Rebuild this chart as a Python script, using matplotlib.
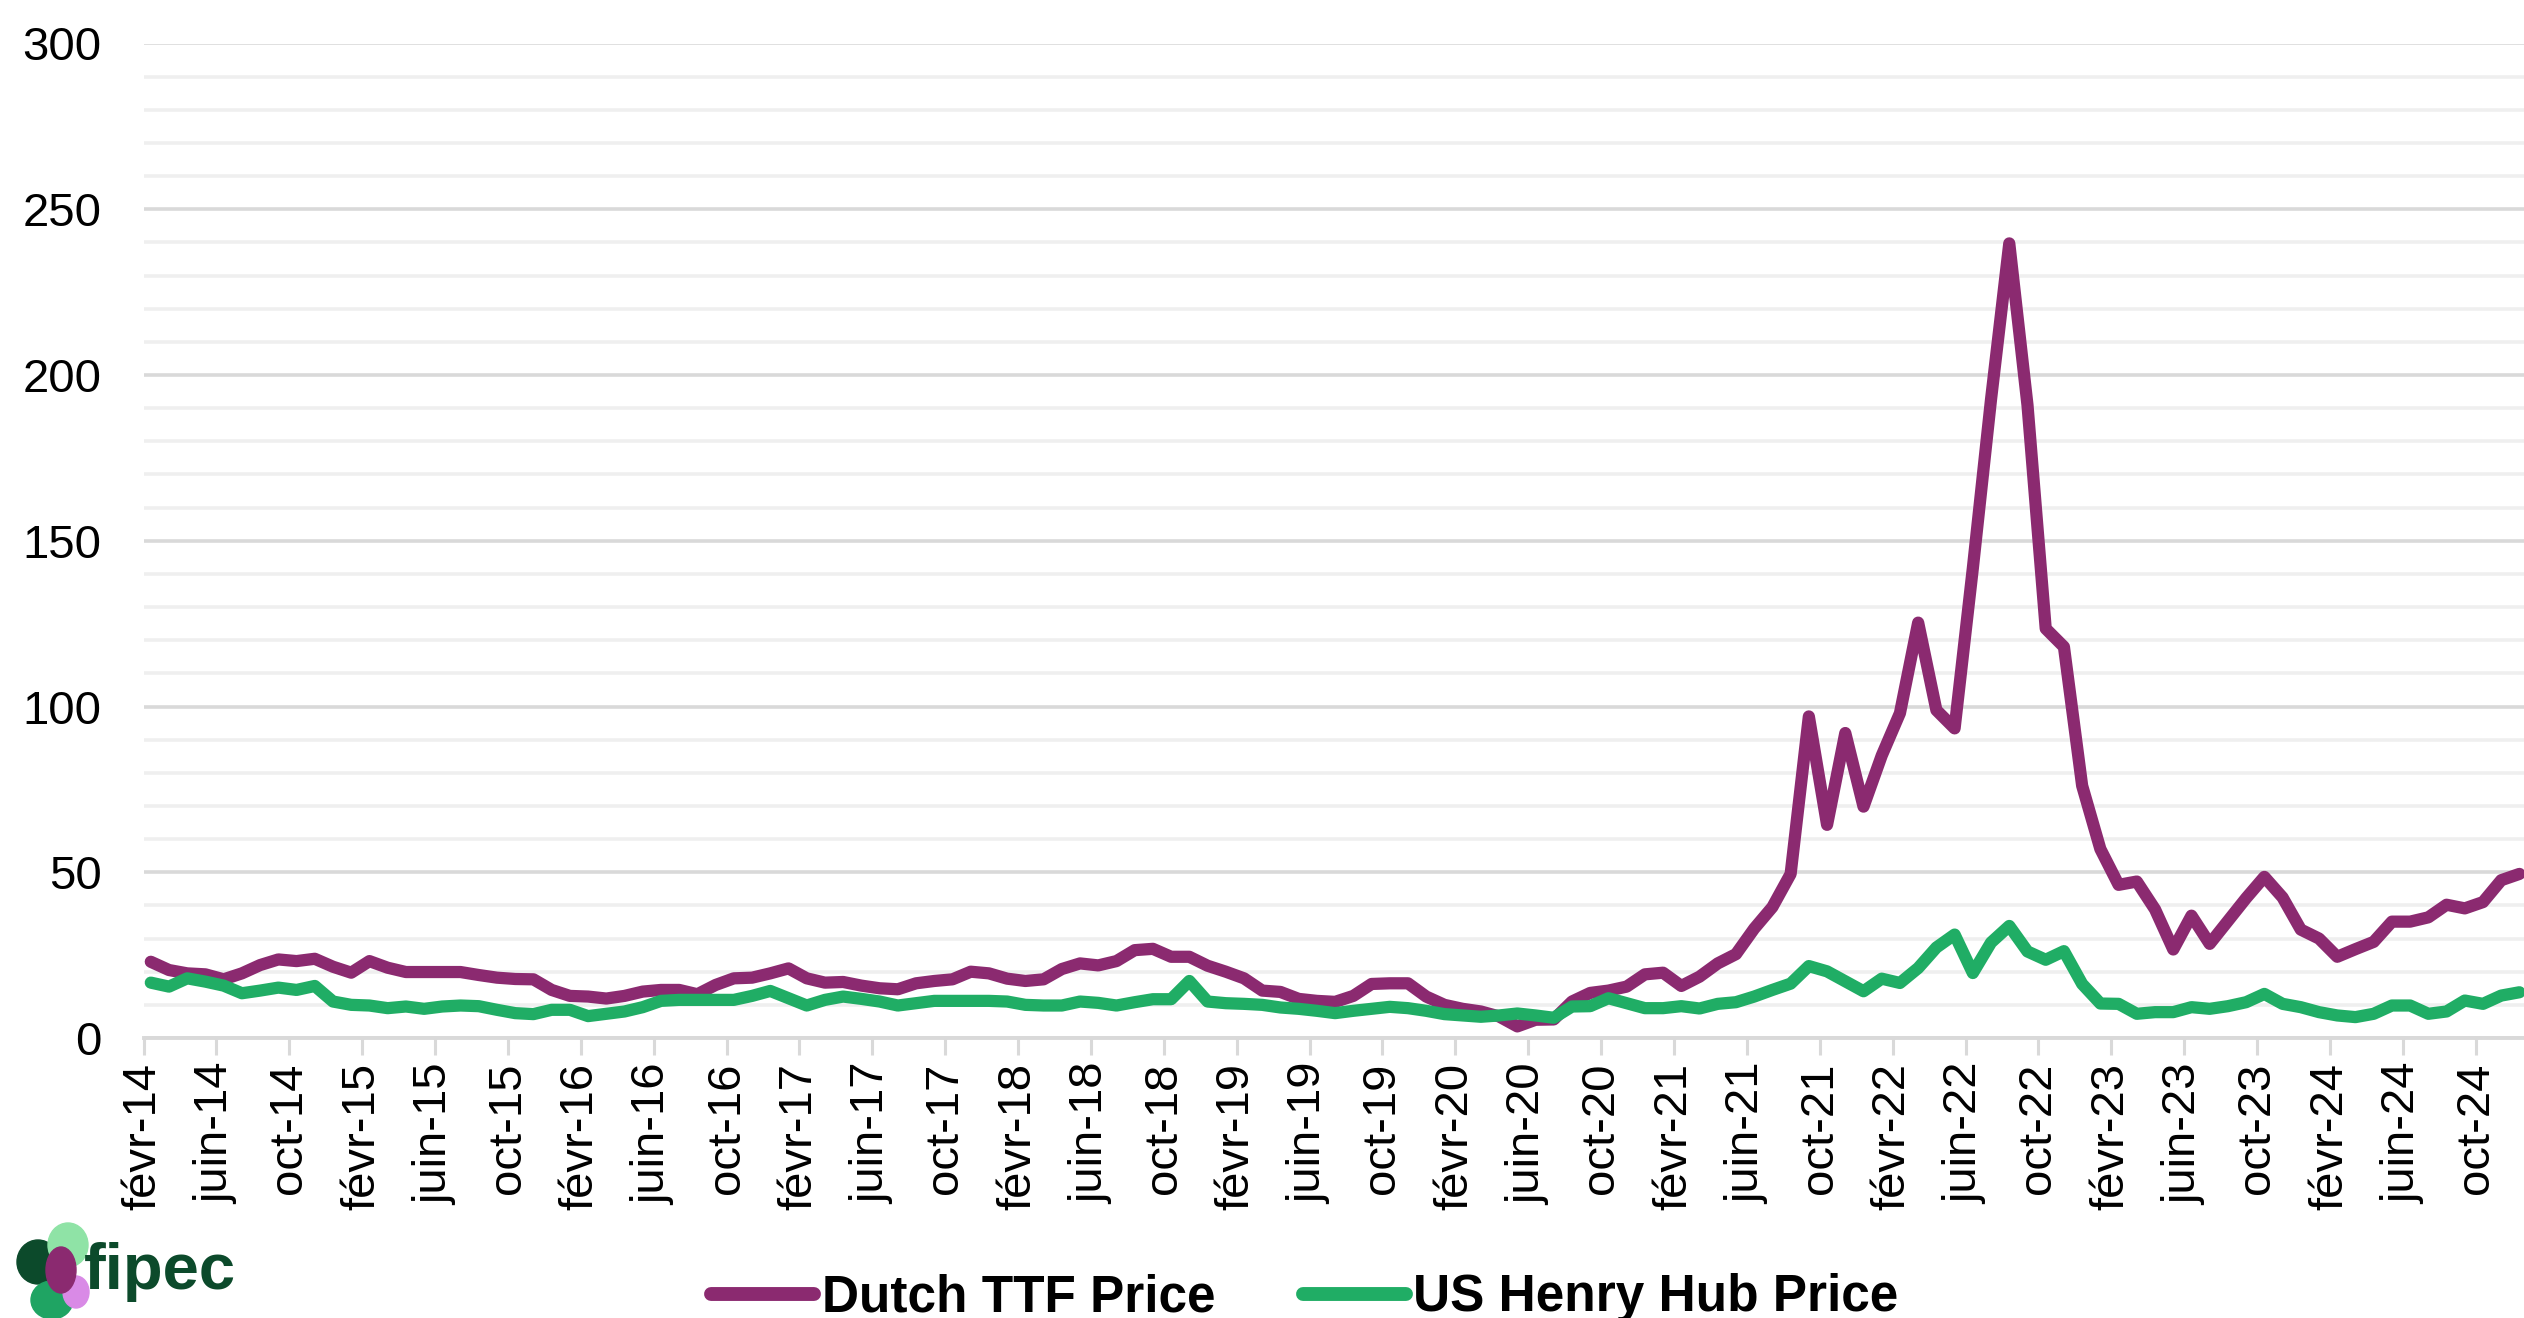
import matplotlib
matplotlib.use("Agg")
import matplotlib.pyplot as plt
from matplotlib.ticker import MultipleLocator, FixedLocator
from matplotlib.patches import Ellipse
import numpy as np

plt.rcParams['font.family'] = ['Liberation Sans', 'DejaVu Sans']

# Monthly prices, Feb 2014 .. Dec 2024
dutch_ttf = [
    23.0, 20.5, 19.5, 19.2, 17.7, 19.5, 22.0, 23.7, 23.2, 23.9, 21.5, 19.7,   # 2014-02 .. 2015-01
    23.2, 21.2, 19.9, 19.9, 19.9, 19.9, 19.0, 18.2, 17.8, 17.7, 14.5, 12.7,   # 2015-02 .. 2016-01
    12.5, 11.9, 12.7, 14.0, 14.5, 14.5, 13.2, 16.0, 18.0, 18.2, 19.5, 21.0,   # 2016-02 .. 2017-01
    18.0, 16.7, 16.9, 15.8, 15.0, 14.7, 16.5, 17.2, 17.7, 20.0, 19.5, 17.9,   # 2017-02 .. 2018-01
    17.2, 17.7, 20.8, 22.5, 21.9, 23.2, 26.5, 26.9, 24.5, 24.5, 21.8, 20.0,   # 2018-02 .. 2019-01
    18.0, 14.3, 13.9, 11.8, 11.2, 10.9, 12.7, 16.3, 16.5, 16.5, 12.5, 10.0,   # 2019-02 .. 2020-01
    8.8, 8.0, 6.5, 3.5, 5.5, 5.6, 11.0, 13.6, 14.3, 15.5, 19.2, 19.7,         # 2020-02 .. 2021-01
    15.7, 18.5, 22.5, 25.3, 33.0, 39.5, 49.5, 97.0, 64.3, 92.0, 69.8, 85.2,   # 2021-02 .. 2022-01
    98.0, 125.3, 98.9, 93.4, 141.7, 192.7, 239.7, 190.9, 123.5, 118.0, 76.1, 57.0,  # 2022-02 .. 2023-01
    46.2, 47.2, 38.8, 26.7, 36.9, 28.4, 35.3, 42.2, 48.6, 42.4, 32.7, 30.0,   # 2023-02 .. 2024-01
    24.5, 26.8, 29.0, 35.1, 35.1, 36.4, 40.2, 39.1, 41.0, 47.6, 49.5,         # 2024-02 .. 2024-12
]

us_henry_hub = [
    16.7, 15.5, 18.0, 17.0, 15.8, 13.5, 14.3, 15.2, 14.5, 15.7, 11.0, 10.0,
    9.8, 9.0, 9.5, 8.8, 9.5, 9.8, 9.6, 8.5, 7.5, 7.2, 8.5, 8.5,
    6.6, 7.3, 8.0, 9.3, 11.2, 11.5, 11.5, 11.5, 11.5, 12.7, 14.2, 12.0,
    9.8, 11.5, 12.5, 11.8, 11.0, 9.8, 10.5, 11.2, 11.2, 11.2, 11.2, 11.0,
    10.0, 9.8, 9.8, 11.0, 10.6, 9.8, 10.8, 11.7, 11.7, 17.2, 11.0, 10.5,
    10.3, 10.0, 9.2, 8.8, 8.2, 7.5, 8.2, 8.8, 9.4, 9.0, 8.2, 7.2,
    6.8, 6.4, 6.8, 7.4, 6.8, 6.1, 9.5, 9.6, 12.0, 10.5, 9.0, 9.0,
    9.6, 8.9, 10.3, 10.8, 12.5, 14.5, 16.4, 21.7, 20.1, 17.1, 14.1, 17.9,
    16.6, 21.1, 27.3, 31.2, 19.6, 28.8, 33.8, 26.1, 23.6, 26.2, 16.3, 10.4,
    10.3, 7.3, 7.8, 7.8, 9.3, 8.8, 9.6, 10.8, 13.3, 10.3, 9.3, 7.8,
    6.8, 6.3, 7.3, 9.8, 9.8, 7.3, 8.0, 11.3, 10.3, 12.8, 13.8,
]

# One label every four months, starting at Feb 2014
tick_labels = [
    "févr-14", "juin-14", "oct-14", "févr-15", "juin-15", "oct-15",
    "févr-16", "juin-16", "oct-16", "févr-17", "juin-17", "oct-17",
    "févr-18", "juin-18", "oct-18", "févr-19", "juin-19", "oct-19",
    "févr-20", "juin-20", "oct-20", "févr-21", "juin-21", "oct-21",
    "févr-22", "juin-22", "oct-22", "févr-23", "juin-23", "oct-23",
    "févr-24", "juin-24", "oct-24",
]
series_names = ["Dutch TTF Price", "US Henry Hub Price"]

PURPLE = "#8B2A70"
GREEN = "#20AD65"
GRID_MAJOR = "#d9d9d9"
GRID_MINOR = "#efefef"

W, H = 2524, 1318
fig = plt.figure(figsize=(W / 100, H / 100), dpi=100)
ax = fig.add_axes([143.5 / W, 280 / H, 1 - 143.5 / W, (1038 - 43.5) / H])

# Observations sit mid-month, ticks at the start of each labelled month
month_pos = np.arange(len(dutch_ttf)) + 0.4
ax.plot(month_pos, dutch_ttf, color=PURPLE, lw=8.8, solid_capstyle="round",
        solid_joinstyle="round", label=series_names[0], zorder=3)
ax.plot(month_pos, us_henry_hub, color=GREEN, lw=8.8, solid_capstyle="round",
        solid_joinstyle="round", label=series_names[1], zorder=4)

ax.set_xlim(0, 130.65)
ax.set_ylim(0, 300)

ax.xaxis.set_major_locator(FixedLocator(np.arange(len(tick_labels)) * 4))
ax.set_xticklabels(tick_labels, rotation=90, fontsize=34, va="top", ha="center")
ax.yaxis.set_major_locator(MultipleLocator(50))
ax.yaxis.set_minor_locator(MultipleLocator(10))
ax.tick_params(axis="x", length=12, width=2.2, color=GRID_MAJOR, pad=6)
ax.tick_params(axis="y", which="both", length=0, pad=30, labelsize=34)

ax.grid(which="major", axis="y", color=GRID_MAJOR, lw=2.6, zorder=1)
ax.grid(which="minor", axis="y", color=GRID_MINOR, lw=2.6, zorder=1)
ax.set_axisbelow(True)
for side in ("top", "right", "left"):
    ax.spines[side].set_visible(False)
ax.spines["bottom"].set_color(GRID_MAJOR)
ax.spines["bottom"].set_linewidth(2.8)

leg = fig.legend(loc="center", bbox_to_anchor=(1305 / W, 1 - 1298 / H), ncol=2,
                 frameon=False, handlelength=2.0, handletextpad=0.15,
                 columnspacing=1.7, prop={"weight": "bold", "size": 37})
for line in leg.get_lines():
    line.set_linewidth(10)
    line.set_solid_capstyle("round")

# fipec logo in the lower left corner
def fx(px):
    return px / W

def fy(py):
    return 1 - py / H

logo_shapes = [
    ((38, 1262), 42, 44, "#0c4a2b"),
    ((68, 1245), 40, 44, "#8fe3a6"),
    ((52, 1300), 42, 38, "#1fa463"),
    ((76, 1292), 26, 32, "#d98ae6"),
    ((61, 1270), 30, 46, PURPLE),
]
for (cx, cy), w, h, c in logo_shapes:
    fig.add_artist(Ellipse((fx(cx), fy(cy)), w / W, h / H, color=c,
                           transform=fig.transFigure, zorder=5))
fig.text(fx(84), fy(1272), "fipec", fontsize=47, fontweight="bold",
         color="#0c4a2b", ha="left", va="center", zorder=6)

fig.savefig("out.png", dpi=100)
